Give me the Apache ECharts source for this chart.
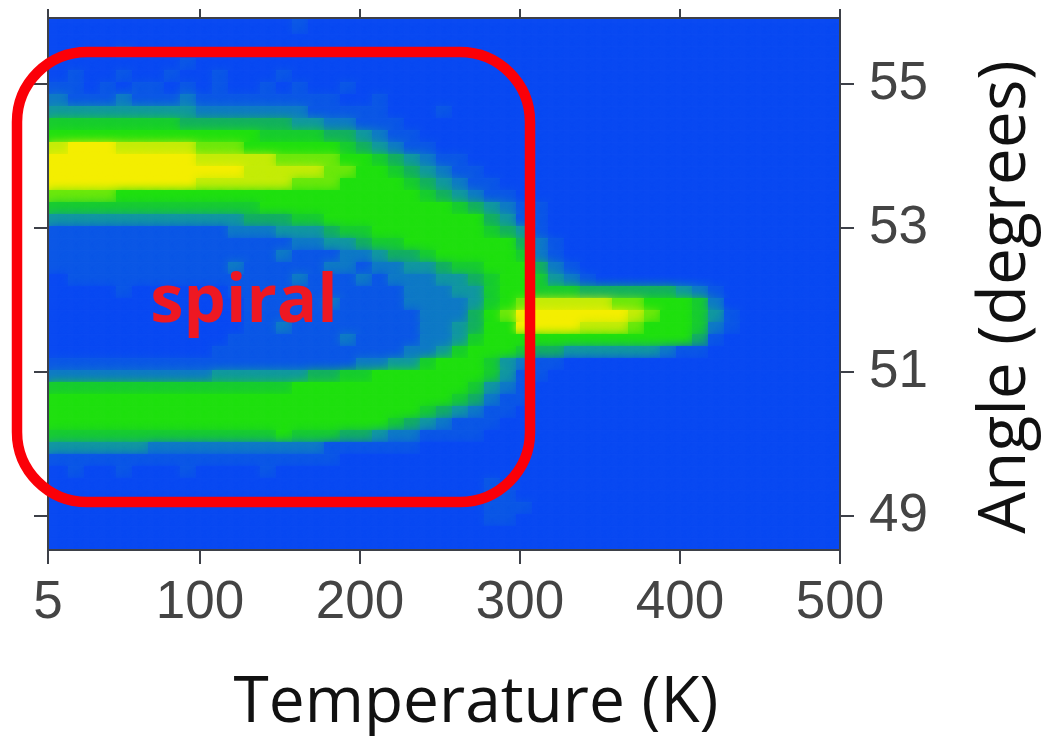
<!DOCTYPE html>
<html><head><meta charset="utf-8">
<style>html,body{margin:0;padding:0;background:#fff}#c{width:1044px;height:736px}</style>
<script src="https://cdn.jsdelivr.net/npm/echarts@6/dist/echarts.min.js"></script>
</head><body><div id="c"></div>
<script>
const xTicks = [5, 100, 200, 300, 400, 500];
const yTicks = [49, 51, 53, 55];
const xTitle = 'Temperature (K)';
const yTitle = 'Angle (degrees)';
const note = 'spiral';
const levelColors = ['#0a4af2','#0c58e6','#0f7ac6','#1298a0','#14b060','#18cc30','#20e010','#6ce80c','#c4ec08','#f4ee00'];
// Intensity 0-9; one string per angle row (top to bottom), one digit per temperature step.
const intensityRows = [
'0000000000 0000010000 0000000000 0000000000 0000000000',
'0000000000 0000000000 0000000000 0000000000 0000000000',
'0000100000 0000000000 0000000000 0000000000 0000000000',
'0000000010 0000000000 0000000000 0000000000 0000000000',
'0100100100 1000100000 0000000000 0000000000 0000000000',
'1101011010 1001010010 0000000000 0000000000 0000000000',
'2111211121 1111111100 1000000000 0000000000 0000000000',
'3333333332 2222221111 1000100000 0000000000 0000000000',
'5555555544 4444433221 1100000000 0000000000 0000000000',
'6666666666 6665555443 2110000000 0000000000 0000000000',
'8999888887 7766666654 3211000000 0000000000 0000000000',
'9999999998 8888777766 5432110000 0000000000 0000000000',
'9999999999 9988888776 6543211000 0000000000 0000000000',
'9999999998 8888877766 6654321100 0000000000 0000000000',
'7777666666 6666666666 6665432110 0000000000 0000000000',
'5555555555 5556666666 6666654321 1000000000 0000000000',
'3333333333 3344455666 6666666431 1000000000 0000000000',
'1111111111 1222333455 6666666543 1000000000 0000000000',
'1111111111 1111122334 5566666664 2100000000 0000000000',
'1111111111 1111211122 3445666665 2100000000 0000000000',
'1111111111 1211111221 2233455666 4210000000 0000000000',
'0111111111 1111121112 1222334566 5321000000 0000000000',
'0000100000 0111111111 1122233566 5554444443 2100000000',
'0000000000 0011111211 1122223567 8888877666 5200000000',
'0000000000 0011111111 1112224679 9999998766 5310000000',
'0000000000 0011211111 1112234669 9998887666 5210000000',
'0000000000 0111111121 1112235666 6666666666 4100000000',
'0000000000 1111111111 1122356665 4433333321 1000000000',
'1111111111 1111111112 2335666532 1100000000 0000000000',
'2222222222 3333334455 6666666531 1000000000 0000000000',
'5555555555 5555566666 6666665321 0000000000 0000000000',
'6666666666 6666666666 6666654211 0000000000 0000000000',
'6666666666 6666666666 6665432110 0000000000 0000000000',
'6666666666 6666666666 6543211100 0000000000 0000000000',
'5555555555 5555655544 3221111000 0000000000 0000000000',
'3333332222 2222222111 1110000000 0000000000 0000000000',
'1111111111 1111111100 0000000000 0000000000 0000000000',
'0100100010 0001000000 0000000000 0000000000 0000000000',
'0000000000 0000000000 0000000100 0000000000 0000000000',
'0000000000 0000000000 0000000110 0000000000 0000000000',
'0000000000 0000000000 0000000111 0000000000 0000000000',
'0000000000 0000000000 0000000110 0000000000 0000000000',
'0000000000 0000000000 0000000000 0000000000 0000000000',
'0000000000 0000000000 0000000000 0000000000 0000000000',
'0000000000 0000000000 0000000000 0000000000 0000000000'
];
const xMin = 5, xMax = 500, yMin = 48.53, yMax = 55.92;
const tempStep = 10, angleStep = 1 / 6;

const cells = [];
intensityRows.forEach((line, i) => {
  const row = line.replace(/ /g, '');
  for (let j = 0; j < row.length; j++) {
    cells.push([xMin + j * tempStep, yMax - i * angleStep, +row[j]]);
  }
});

const lineStyle = { color: '#3d4048', width: 2 };
const tickBase = { show: true, length: 14, inside: false, lineStyle };
const labelStyle = { color: '#444', fontFamily: 'Liberation Sans', fontSize: 53 };

const chart = echarts.init(document.getElementById('c'), null, { renderer: 'canvas' });
chart.setOption({
  animation: false,
  backgroundColor: '#fff',
  grid: { left: 48, right: 204, top: 18, bottom: 186, outerBoundsMode: 'none' },
  visualMap: { show: false, type: 'continuous', min: 0, max: 9, dimension: 2, seriesIndex: 0, inRange: { color: levelColors } },
  xAxis: [
    { type: 'value', position: 'bottom', min: xMin, max: xMax, z: 10, splitLine: { show: false },
      axisLine: { show: true, onZero: false, lineStyle },
      axisTick: { ...tickBase, customValues: xTicks },
      axisLabel: { ...labelStyle, margin: 27, customValues: xTicks, hideOverlap: false },
      name: xTitle, nameLocation: 'middle', nameGap: 122,
      nameTextStyle: { color: '#111', fontFamily: 'Open Sans', fontSize: 64, padding: [0, 0, 0, 64] } },
    { type: 'value', position: 'top', min: xMin, max: xMax, z: 10, splitLine: { show: false },
      axisLine: { show: true, onZero: false, lineStyle },
      axisTick: { ...tickBase, length: 9, customValues: xTicks },
      axisLabel: { show: false } }
  ],
  yAxis: [
    { type: 'value', position: 'right', min: yMin, max: yMax, z: 10, splitLine: { show: false },
      axisLine: { show: true, onZero: false, lineStyle },
      axisTick: { ...tickBase, customValues: yTicks },
      axisLabel: { ...labelStyle, margin: 29, customValues: yTicks, hideOverlap: false },
      name: yTitle, nameLocation: 'middle', nameGap: 133, nameRotate: 90,
      nameTextStyle: { color: '#111', fontFamily: 'Open Sans', fontSize: 66, padding: [0, 26, 0, 0] } },
    { type: 'value', position: 'left', min: yMin, max: yMax, z: 10, splitLine: { show: false },
      axisLine: { show: true, onZero: false, lineStyle },
      axisTick: { ...tickBase, customValues: yTicks },
      axisLabel: { show: false } }
  ],
  series: [{
    type: 'custom',
    coordinateSystem: 'cartesian2d',
    xAxisIndex: 0, yAxisIndex: 0,
    clip: true,
    data: cells,
    encode: { x: 0, y: 1 },
    renderItem(params, api) {
      const t = api.value(0), a = api.value(1);
      const p0 = api.coord([t, a]);
      const p1 = api.coord([t + tempStep, a - angleStep]);
      const fill = api.visual('color');
      // Blur bleeds up and left as cells paint in order; the nudge keeps bands centred, edge cells stay flush.
      const nudge = 4;
      const dx = t === xMin ? 0 : nudge;
      const dy = a === yMax ? 0 : nudge;
      return {
        type: 'rect',
        shape: { x: p0[0] + dx, y: p0[1] + dy, width: p1[0] + nudge - p0[0] - dx + 0.5, height: p1[1] + nudge - p0[1] - dy + 0.5 },
        style: { fill, shadowBlur: 10, shadowColor: fill }
      };
    }
  }],
  graphic: [
    { type: 'rect', z: 100, shape: { x: 17, y: 52, width: 513, height: 450, r: 70 },
      style: { fill: 'transparent', stroke: '#fb0008', lineWidth: 10.5 } },
    { type: 'text', z: 101, x: 244, y: 303,
      style: { text: note, fill: '#ee1822', font: 'bold 67px "Open Sans"', textAlign: 'center', textVerticalAlign: 'middle' } }
  ]
});
</script></body></html>
